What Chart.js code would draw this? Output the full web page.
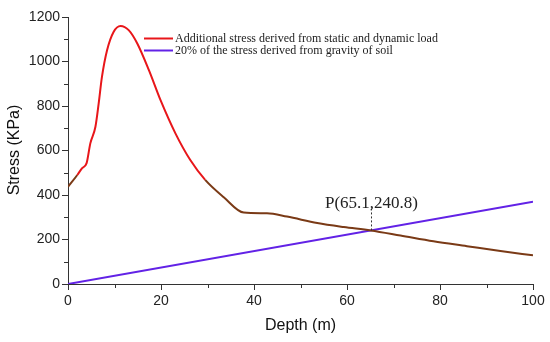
<!DOCTYPE html>
<html>
<head>
<meta charset="utf-8">
<script src="https://cdn.jsdelivr.net/npm/chart.js@4/dist/chart.umd.min.js"></script>
<style>
  html, body { margin: 0; padding: 0; background: #fff; }
  canvas { display: block; }
</style>
</head>
<body>
<canvas id="stressChart" width="550" height="342"></canvas>
<script>
// datos
const depthAdd = [0, 2.0, 3.0, 4.0, 4.8, 5.9, 6.6, 7.3, 8.4, 9.8, 11.3, 13.1, 14.9, 17.4, 19.9, 23.1, 26.3, 29.5, 33.5, 37.8, 42.8, 47.1, 53.6, 59.3, 65.1, 71.5, 78.6, 85.8, 93, 100];
const stressAdd = [437, 490, 520, 543, 632, 707, 812, 931, 1051, 1133, 1160, 1140, 1081, 961, 826, 677, 557, 468, 390, 321, 318, 303, 274, 256, 240.8, 218, 192, 170, 148, 129];
const depthSoil = [0, 100];
const stressSoil = [0, 370];
const labels = ['Additional stress derived from static and dynamic load', '20% of the stress derived from gravity of soil'];
const pointP = [65.1, 240.8];

const red = 'rgb(232,22,26)';
const brown = 'rgb(122,58,22)';
const purple = 'rgb(98,34,230)';

// ticks menores, titulos, leyenda y anotacion
const extrasPlugin = {
    id: 'extras',
    afterDraw(chart) {
        const ctx = chart.ctx;
        const xs = chart.scales.x;
        const ys = chart.scales.y;
        const area = chart.chartArea;
        ctx.save();
        ctx.strokeStyle = '#333';
        ctx.lineWidth = 1;
        for (let v = 100; v < 1200; v += 200) {
            const py = Math.round(ys.getPixelForValue(v)) + 0.5;
            ctx.beginPath();
            ctx.moveTo(area.left - 4, py);
            ctx.lineTo(area.left, py);
            ctx.stroke();
        }
        for (let v = 10; v < 100; v += 20) {
            const px = Math.round(xs.getPixelForValue(v)) + 0.5;
            ctx.beginPath();
            ctx.moveTo(px, area.bottom);
            ctx.lineTo(px, area.bottom + 4);
            ctx.stroke();
        }

        // titulos de ejes
        ctx.fillStyle = '#111';
        ctx.font = '16px "Liberation Sans", Arial, sans-serif';
        ctx.textAlign = 'center';
        ctx.textBaseline = 'middle';
        ctx.fillText('Depth (m)', (area.left + area.right) / 2, 326);
        ctx.save();
        ctx.translate(15, 150);
        ctx.rotate(-Math.PI / 2);
        ctx.fillText('Stress (KPa)', 0, 0);
        ctx.restore();

        // leyenda
        const colors = [red, purple];
        ctx.font = '12px "Liberation Serif", "Times New Roman", serif';
        ctx.textAlign = 'left';
        labels.forEach((lab, i) => {
            const y = 38.5 + i * 12;
            ctx.strokeStyle = colors[i];
            ctx.lineWidth = 2;
            ctx.beginPath();
            ctx.moveTo(144, y);
            ctx.lineTo(173, y);
            ctx.stroke();
            ctx.fillStyle = '#222';
            ctx.fillText(lab, 175, y);
        });

        // punto P
        const px = Math.round(xs.getPixelForValue(pointP[0])) + 0.5;
        const py = ys.getPixelForValue(pointP[1]);
        ctx.strokeStyle = '#333';
        ctx.lineWidth = 1;
        ctx.setLineDash([2, 2]);
        ctx.beginPath();
        ctx.moveTo(px, py);
        ctx.lineTo(px, py - 22);
        ctx.stroke();
        ctx.setLineDash([]);
        ctx.fillStyle = '#222';
        ctx.font = '17px "Liberation Serif", "Times New Roman", serif';
        ctx.textAlign = 'center';
        ctx.textBaseline = 'alphabetic';
        ctx.fillText('P(' + pointP[0] + ',' + pointP[1] + ')', px, py - 22);
        ctx.restore();
    }
};

const ctx = document.getElementById('stressChart').getContext('2d');
new Chart(ctx, {
    type: 'line',
    data: {
        datasets: [{
            label: labels[0],
            data: depthAdd.map((d, i) => ({ x: d, y: stressAdd[i] })),
            borderColor: red,
            borderWidth: 2,
            pointRadius: 0,
            cubicInterpolationMode: 'monotone',
            segment: {
                borderColor: c => (c.p0.parsed.x >= 28 || c.p1.parsed.x <= 2) ? brown : red
            }
        }, {
            label: labels[1],
            data: depthSoil.map((d, i) => ({ x: d, y: stressSoil[i] })),
            borderColor: purple,
            borderWidth: 2,
            pointRadius: 0
        }]
    },
    options: {
        responsive: false,
        animation: false,
        layout: { padding: { top: 17, right: 17, left: 0, bottom: 0 } },
        plugins: {
            legend: { display: false },
            tooltip: { enabled: false }
        },
        scales: {
            x: {
                type: 'linear',
                min: 0,
                max: 100,
                ticks: {
                    stepSize: 20,
                    color: '#222',
                    padding: 3,
                    callback: v => String(v),
                    font: { family: '"Liberation Sans", Arial, sans-serif', size: 14 }
                },
                grid: { drawOnChartArea: false, tickLength: 6, tickColor: '#333' },
                border: { color: '#333', width: 1 },
                afterFit: s => { s.height = 58; }
            },
            y: {
                min: 0,
                max: 1200,
                ticks: {
                    stepSize: 200,
                    color: '#222',
                    padding: 2,
                    callback: v => String(v),
                    font: { family: '"Liberation Sans", Arial, sans-serif', size: 14 }
                },
                grid: { drawOnChartArea: false, tickLength: 6, tickColor: '#333' },
                border: { color: '#333', width: 1 },
                afterFit: s => { s.width = 68; }
            }
        }
    },
    plugins: [extrasPlugin]
});
</script>
</body>
</html>
